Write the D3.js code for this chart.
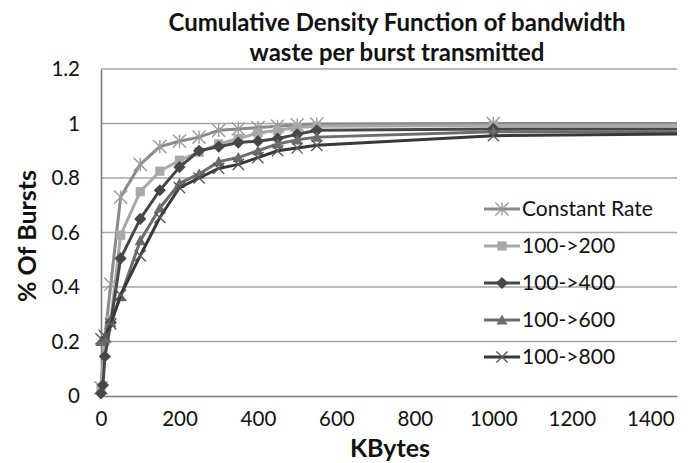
<!DOCTYPE html>
<html>
<head>
<meta charset="utf-8">
<script src="https://cdn.jsdelivr.net/npm/d3@7"></script>
<style>
  body { margin: 0; background: #fff; }
  svg { display: block; }
  text { font-family: Lato, "Open Sans", sans-serif; fill: #111; }
</style>
</head>
<body>
<svg id="chart" width="690" height="463"></svg>
<script>
// Transmitted burst sizes (KBytes) and CDF values per scheduling scheme
const constantRate = [[0,0.03],[10,0.22],[25,0.41],[50,0.73],[100,0.85],[150,0.915],[200,0.935],[250,0.95],[300,0.975],[350,0.98],[400,0.985],[450,0.99],[500,0.995],[550,0.998],[1000,1.0],[1500,1.0]];
const r100to200 = [[0,0.03],[10,0.2],[25,0.28],[50,0.59],[100,0.75],[150,0.825],[200,0.865],[250,0.895],[300,0.925],[350,0.945],[400,0.965],[450,0.975],[500,0.985],[550,0.99],[1000,0.993],[1500,0.993]];
const r100to400 = [[0,0.01],[5,0.04],[10,0.145],[25,0.27],[50,0.505],[100,0.65],[150,0.755],[200,0.84],[250,0.9],[300,0.915],[350,0.93],[400,0.935],[450,0.945],[500,0.96],[550,0.975],[1000,0.98],[1500,0.98]];
const r100to600 = [[0,0.2],[10,0.21],[25,0.27],[50,0.365],[100,0.57],[150,0.69],[200,0.78],[250,0.815],[300,0.86],[350,0.875],[400,0.9],[450,0.925],[500,0.94],[550,0.95],[1000,0.97],[1500,0.97]];
const r100to800 = [[0,0.21],[10,0.22],[25,0.265],[50,0.37],[100,0.515],[150,0.655],[200,0.765],[250,0.8],[300,0.835],[350,0.85],[400,0.875],[450,0.9],[500,0.91],[550,0.92],[1000,0.955],[1500,0.962]];

const seriesNames = ["Constant Rate", "100->200", "100->400", "100->600", "100->800"];
const seriesData = [constantRate, r100to200, r100to400, r100to600, r100to800];
const xTicks = [0, 200, 400, 600, 800, 1000, 1200, 1400];
const yTicks = [0, 0.2, 0.4, 0.6, 0.8, 1, 1.2];
const titleLines = ["Cumulative Density Function of bandwidth", "waste per burst transmitted"];

const styles = [
  { line: "#8a8a8a", mark: "#9a9a9a", shape: "star" },
  { line: "#a8a8a8", mark: "#a8a8a8", shape: "square" },
  { line: "#474747", mark: "#474747", shape: "diamond" },
  { line: "#6c6c6c", mark: "#6c6c6c", shape: "triangle" },
  { line: "#383838", mark: "#5a5a5a", shape: "cross" }
];

const svg = d3.select("#chart");
const plot = { left: 101, right: 677, top: 69, bottom: 396 };

const x = d3.scaleLinear().domain([0, 1468]).range([plot.left, plot.right]);
const y = d3.scaleLinear().domain([0, 1.2]).range([plot.bottom, plot.top]);

// Title
svg.append("g").selectAll("text").data(titleLines).join("text")
  .attr("x", 397).attr("y", (d, i) => 31 + i * 30)
  .attr("text-anchor", "middle")
  .style("font-size", "24px").style("font-weight", "bold")
  .text(d => d);

// Horizontal gridlines
svg.append("g").selectAll("line").data(yTicks.filter(t => t > 0)).join("line")
  .attr("x1", plot.left).attr("x2", plot.right)
  .attr("y1", d => y(d)).attr("y2", d => y(d))
  .attr("stroke", "#a6a6a6").attr("stroke-width", 1.6);

// Axes
const yAxis = svg.append("g").attr("transform", `translate(${plot.left},0)`)
  .call(d3.axisLeft(y).tickValues(yTicks).tickSize(0).tickPadding(21).tickFormat(d => d === 0 || d === 1 ? d3.format("d")(d) : d3.format(".1f")(d)));
const xAxis = svg.append("g").attr("transform", `translate(0,${plot.bottom})`)
  .call(d3.axisBottom(x).tickValues(xTicks).tickSize(0).tickPadding(15).tickFormat(d3.format("d")));
[yAxis, xAxis].forEach(a => {
  a.select(".domain").attr("stroke", "#7a7a7a").attr("stroke-width", 1.6);
  a.selectAll("text").style("font-size", "20.5px").style("font-family", "Lato, sans-serif").attr("fill", "#111");
});

// Axis titles
svg.append("text").attr("x", 390).attr("y", 457)
  .attr("text-anchor", "middle").style("font-size", "25px").style("font-weight", "bold")
  .text("KBytes");
svg.append("text").attr("transform", "translate(36,236) rotate(-90)")
  .attr("text-anchor", "middle").style("font-size", "25px").style("font-weight", "bold")
  .text("% Of Bursts");

// Marker shapes
function drawMarker(g, shape, color) {
  const s = 4.6;
  if (shape === "square") {
    g.append("rect").attr("x", -s).attr("y", -s).attr("width", 2 * s).attr("height", 2 * s).attr("fill", color);
  } else if (shape === "diamond") {
    g.append("path").attr("d", `M0,${-s - 1.5}L${s + 1.5},0L0,${s + 1.5}L${-s - 1.5},0Z`).attr("fill", color);
  } else if (shape === "triangle") {
    g.append("path").attr("d", `M0,${-s - 1}L${s + 1},${s}L${-s - 1},${s}Z`).attr("fill", color);
  } else if (shape === "cross") {
    g.append("path").attr("d", `M${-s - 1},${-s - 1}L${s + 1},${s + 1}M${-s - 1},${s + 1}L${s + 1},${-s - 1}`)
      .attr("stroke", color).attr("stroke-width", 1.4).attr("fill", "none");
  } else {
    const r = s + 2;
    g.append("path").attr("d", `M${-r},${-r}L${r},${r}M${-r},${r}L${r},${-r}M0,${-r}L0,${r}`)
      .attr("stroke", color).attr("stroke-width", 1.4).attr("fill", "none");
  }
}

// Clip to the plot area
svg.append("defs").append("clipPath").attr("id", "plotClip")
  .append("rect").attr("x", plot.left - 12).attr("y", plot.top - 12)
  .attr("width", plot.right - plot.left + 12).attr("height", plot.bottom - plot.top + 24);

const line = d3.line().x(d => x(d[0])).y(d => y(d[1]));
const series = svg.append("g").attr("clip-path", "url(#plotClip)");

seriesData.forEach((data, i) => {
  const st = styles[i];
  series.append("path").datum(data).attr("d", line)
    .attr("fill", "none").attr("stroke", st.line).attr("stroke-width", 3).attr("stroke-linejoin", "round");
  data.filter(d => d[0] <= 1000).forEach(d => {
    const g = series.append("g").attr("transform", `translate(${x(d[0])},${y(d[1])})`);
    drawMarker(g, st.shape, st.mark);
  });
});

// Legend
const legend = svg.append("g");
seriesNames.forEach((name, i) => {
  const ly = 209 + i * 37;
  const st = styles[i];
  legend.append("line").attr("x1", 484).attr("x2", 520).attr("y1", ly).attr("y2", ly)
    .attr("stroke", st.line).attr("stroke-width", 3);
  drawMarker(legend.append("g").attr("transform", `translate(502,${ly})`), st.shape, st.mark);
  legend.append("text").attr("x", 522).attr("y", ly + 7).style("font-size", "21px").text(name);
});
</script>
</body>
</html>
